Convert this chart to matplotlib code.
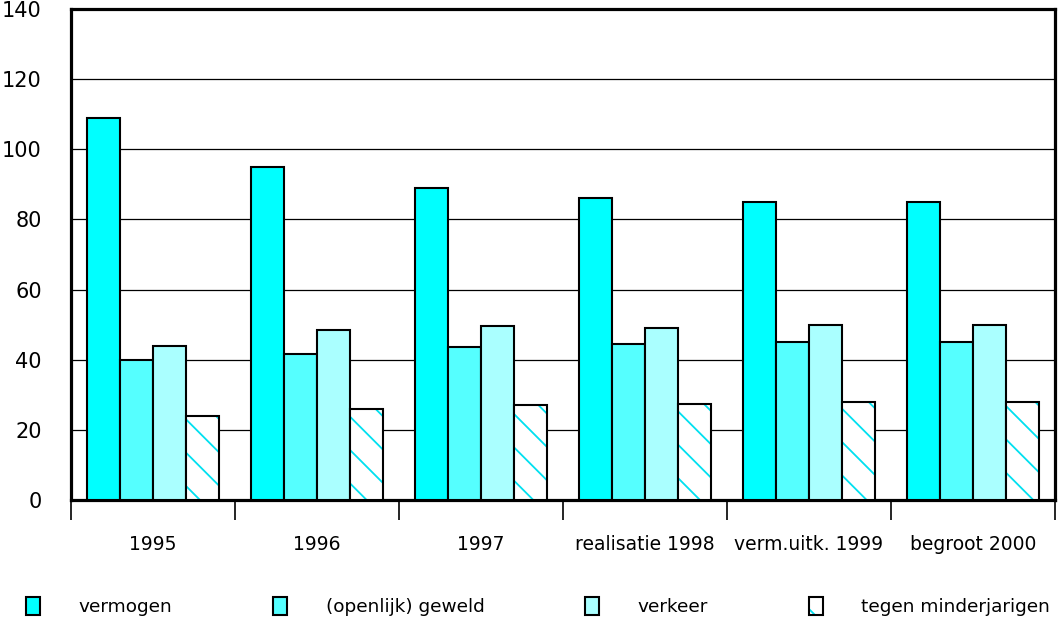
"""Bar chart: aantallen per categorie, 1995 - begroot 2000."""

import matplotlib
matplotlib.use("Agg")
import matplotlib.pyplot as plt
import numpy as np
from matplotlib.patches import Patch

# Data
categories = ['1995', '1996', '1997', 'realisatie 1998', 'verm.uitk. 1999', 'begroot 2000']
series_names = ['vermogen', '(openlijk) geweld', 'verkeer', 'tegen minderjarigen']
vermogen = [109, 95, 89, 86, 85, 85]
geweld = [40, 41.5, 43.5, 44.5, 45, 45]
verkeer = [44, 48.5, 49.5, 49, 50, 50]
minderjarigen = [24, 26, 27, 27.5, 28, 28]

colors = ['#00FFFF', '#55FFFF', '#AAFFFF', '#FFFFFF']
hatch_color = '#00E0F0'

plt.rcParams['font.family'] = ['DejaVu Sans']
plt.rcParams['hatch.linewidth'] = 1.3

fig = plt.figure(figsize=(10.63, 6.18), dpi=100)
ax = fig.add_axes([71 / 1063, 118 / 618, 984 / 1063, 491 / 618])

x = np.arange(len(categories))
width = 33 / 164
values = [vermogen, geweld, verkeer, minderjarigen]

for j, (vals, col) in enumerate(zip(values, colors)):
    pos = x + (j - 1.5) * width
    if j == 3:
        # hatched fill first, outline drawn on top
        ax.bar(pos, vals, width, color='white', edgecolor=hatch_color,
               hatch='\\', linewidth=0, zorder=3)
        ax.bar(pos, vals, width, fill=False, edgecolor='black',
               linewidth=1.5, zorder=4)
    else:
        ax.bar(pos, vals, width, color=col, edgecolor='black',
               linewidth=1.5, zorder=3)

ax.set_xlim(-0.5, len(categories) - 0.5)
ax.set_ylim(0, 140)
ax.set_yticks(range(0, 141, 20))
ax.yaxis.grid(True, color='black', linewidth=0.9, zorder=0)
ax.set_axisbelow(True)
ax.tick_params(axis='y', length=0, pad=21, labelsize=15)

# group boundaries as long major ticks, labels at group centres
ax.set_xticks(np.arange(-0.5, len(categories)))
ax.set_xticklabels([])
ax.set_xticks(x, minor=True)
ax.set_xticklabels(categories, minor=True)
ax.tick_params(axis='x', which='major', length=14.5, width=1.2, direction='out')
ax.tick_params(axis='x', which='minor', length=0, pad=25, labelsize=13.5)

for side in ['top', 'bottom', 'left', 'right']:
    ax.spines[side].set_linewidth(2.3)

handles = [Patch(facecolor=c, edgecolor='black', linewidth=1.5) for c in colors[:3]]
handles.append((Patch(facecolor='white', edgecolor=hatch_color, hatch='\\', linewidth=0),
                Patch(fill=False, edgecolor='black', linewidth=1.5)))

fig.legend(handles, series_names, loc='lower left', bbox_to_anchor=(26 / 1063, 2 / 618),
           ncol=4, frameon=False, fontsize=13.3, handlelength=0.75, handleheight=1.15,
           handletextpad=2.1, columnspacing=5.45, borderaxespad=0, borderpad=0)

fig.savefig('out.png', dpi=100)
